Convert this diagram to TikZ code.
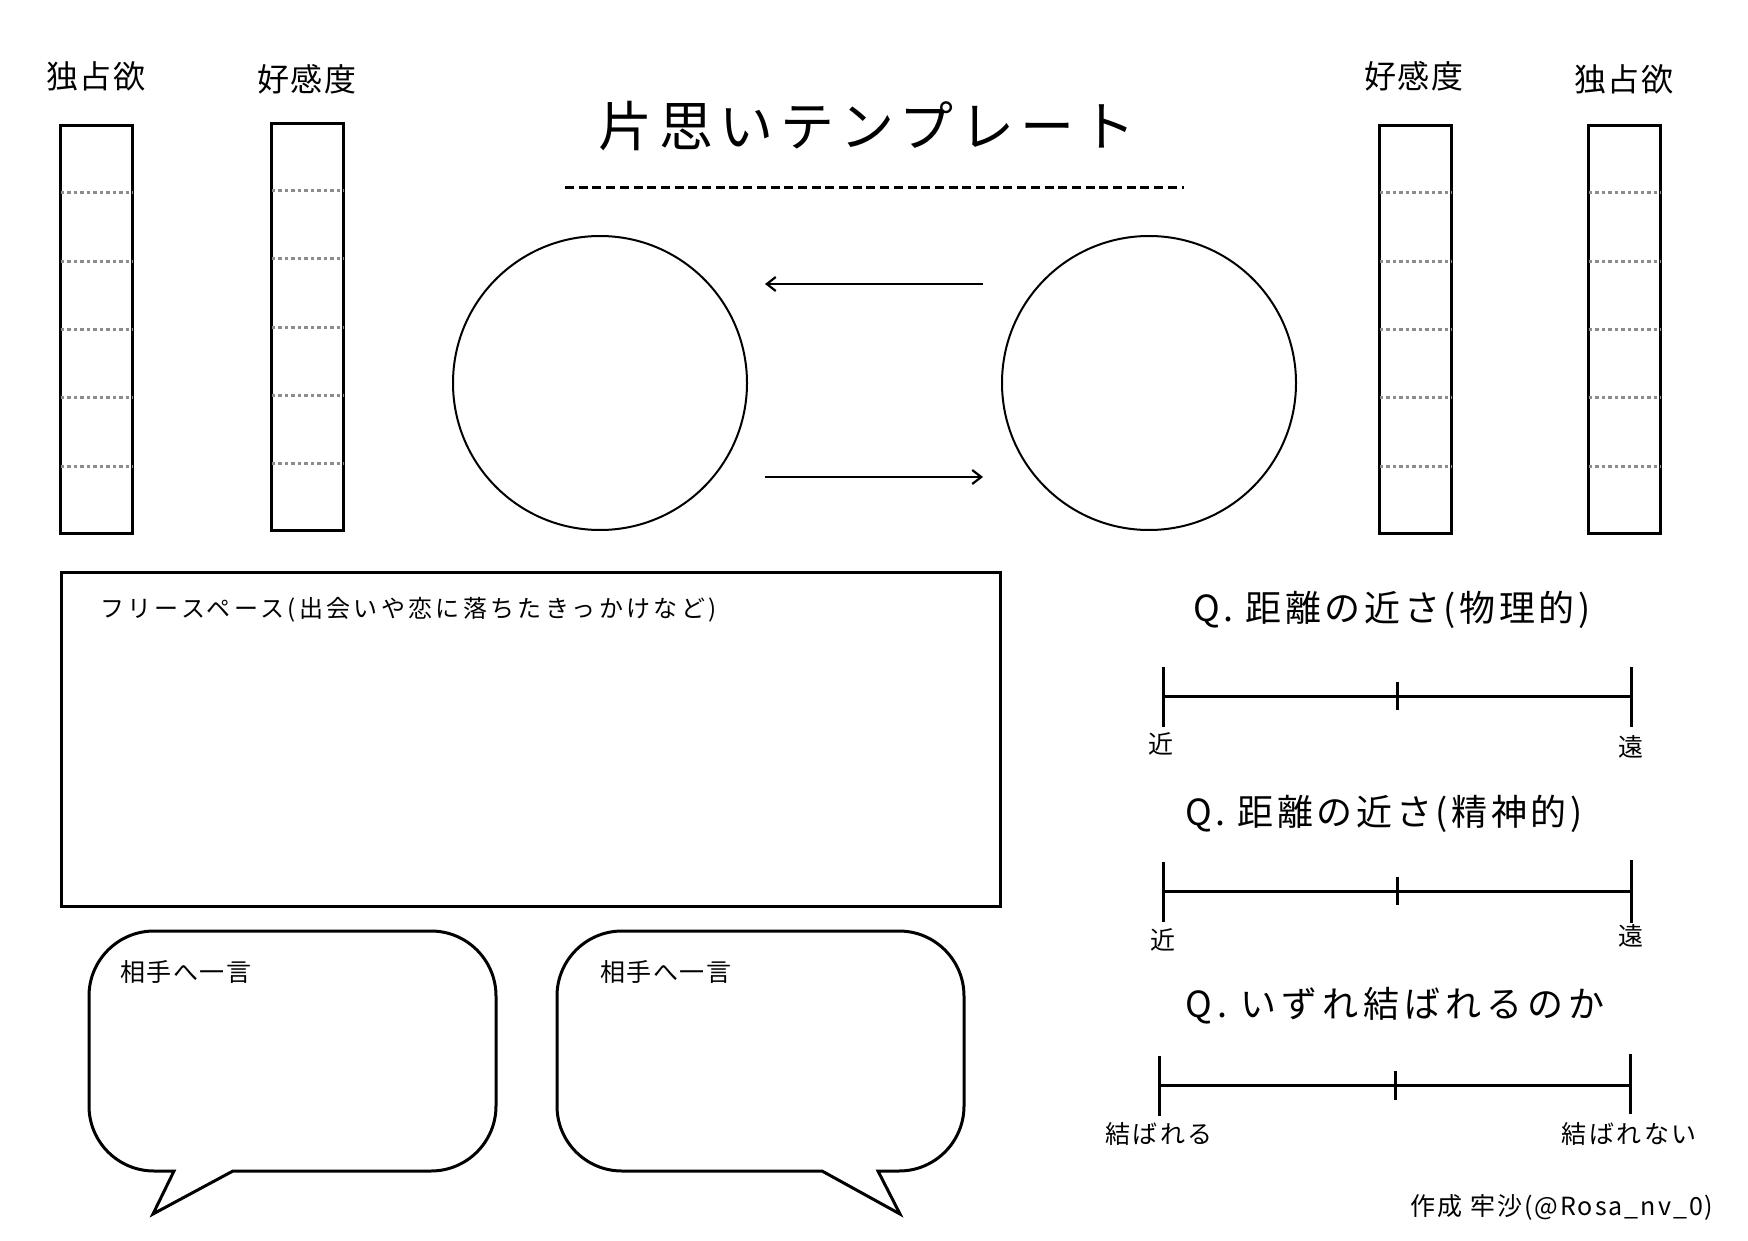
\documentclass[tikz,border=0pt]{standalone}
\usepackage{fontspec}
\setmainfont{Noto Sans CJK JP}
\usetikzlibrary{arrows.meta,calc}
\begin{document}
\begin{tikzpicture}[x=1pt,y=-1pt,
  bar/.style={draw, line width=3pt, minimum width=72pt, minimum height=407pt, inner sep=0pt},
  dotline/.style={draw=black!45, line width=3pt, dash pattern=on 3.5pt off 3pt, shorten <=1.5pt, shorten >=1.5pt},
  ring/.style={draw, circle, line width=2pt, minimum size=294pt, inner sep=0pt},
  arr/.style={line width=2.8pt, -{Straight Barb[length=9pt,width=14pt,line width=2.2pt]}},
  scaleline/.style={line width=3pt},
  lbl/.style={font=\fontsize{32}{36}\selectfont\addfontfeature{LetterSpace=6}, inner sep=0pt},
  qtext/.style={font=\fontsize{36}{40}\selectfont\addfontfeature{LetterSpace=10}, inner sep=0pt},
  small/.style={font=\fontsize{25}{28}\selectfont\addfontfeature{LetterSpace=10}, inner sep=0pt},
  bubble/.style={draw, line width=3pt, fill=white}
]
\useasboundingbox (0,0) rectangle (1748,1241);
\fill[white] (0,0) rectangle (1748,1241);

% title
\node[font=\fontsize{54}{60}\selectfont\addfontfeature{LetterSpace=12}, inner sep=0pt] (title) at (867,126) {片思いテンプレート};
\coordinate (dl) at (565,188);
\coordinate (dr) at (1184,188);
\draw[line width=3pt, dash pattern=on 9pt off 4.7pt] (dl) -- (dr);

% bars
\node[bar] (b1) at (96.5,329.5) {};
\node[bar] (b2) at (307.5,327) {};
\node[bar] (b3) at (1415.5,329.5) {};
\node[bar] (b4) at (1624.5,329.5) {};
\foreach \b in {b1,b2,b3,b4}{
  \foreach \k in {1,...,5}{
    \draw[dotline] ($(\b.north west)!\k/6!(\b.south west)$) -- ($(\b.north east)!\k/6!(\b.south east)$);
  }
}
\node[lbl] (l1) at (96,76) {独占欲};
\node[lbl] (l2) at (307,79) {好感度};
\node[lbl] (l3) at (1414,76) {好感度};
\node[lbl] (l4) at (1624,79) {独占欲};

% circles and arrows
\node[ring] (c1) at (600,383) {};
\node[ring] (c2) at (1149,383) {};
\coordinate (a1s) at (983,284);
\coordinate (a1e) at (765,284);
\coordinate (a2s) at (765,477);
\coordinate (a2e) at (983,477);
\draw[arr] (a1s) -- (a1e);
\draw[arr] (a2s) -- (a2e);

% free space
\node[draw, line width=3pt, minimum width=939pt, minimum height=334pt, inner sep=0pt, anchor=north west] (free) at (60,571) {};
\node[small, anchor=west, font=\fontsize{24}{28}\selectfont\addfontfeature{LetterSpace=14}] (freetxt) at (100,610) {フリースペース(出会いや恋に落ちたきっかけなど)};

% speech bubbles
\draw[bubble] (154,931) -- (431,931) arc[start angle=270, end angle=360, radius=65]
  -- (496,1106) arc[start angle=0, end angle=90, radius=65]
  -- (233,1171) -- (153,1214) -- (174,1171) -- (154,1171)
  arc[start angle=90, end angle=180, radius=65]
  -- (89,996) arc[start angle=180, end angle=270, radius=65] -- cycle;
\draw[bubble] (622,931) -- (899,931) arc[start angle=270, end angle=360, radius=65]
  -- (964,1106) arc[start angle=0, end angle=90, radius=65]
  -- (878,1171) -- (900,1214) -- (822,1171) -- (622,1171)
  arc[start angle=90, end angle=180, radius=65]
  -- (557,996) arc[start angle=180, end angle=270, radius=65] -- cycle;
\node[small, anchor=west, font=\fontsize{25}{28}\selectfont\addfontfeature{LetterSpace=6}] (m1) at (120,972) {相手へ一言};
\node[small, anchor=west, font=\fontsize{25}{28}\selectfont\addfontfeature{LetterSpace=6}] (m2) at (600,972) {相手へ一言};

% question 1
\node[qtext] (q1) at (1392,610) {Q. 距離の近さ(物理的)};
\coordinate (s1l) at (1163,696);
\coordinate (s1m) at (1397,696);
\coordinate (s1r) at (1631,696);
\draw[scaleline] (s1l) -- (s1r);
\draw[scaleline] ($(s1l)+(0,-29)$) -- ($(s1l)+(0,31)$);
\draw[scaleline] ($(s1r)+(0,-29)$) -- ($(s1r)+(0,31)$);
\draw[scaleline] ($(s1m)+(0,-14)$) -- ($(s1m)+(0,14)$);
\node[small] (n1) at (1161,744) {近};
\node[small] (f1) at (1631,747) {遠};

% question 2
\node[qtext] (q2) at (1384,814) {Q. 距離の近さ(精神的)};
\coordinate (s2l) at (1163,891);
\coordinate (s2m) at (1397,891);
\coordinate (s2r) at (1631,891);
\draw[scaleline] (s2l) -- (s2r);
\draw[scaleline] ($(s2l)+(0,-29)$) -- ($(s2l)+(0,31)$);
\draw[scaleline] ($(s2r)+(0,-31)$) -- ($(s2r)+(0,32)$);
\draw[scaleline] ($(s2m)+(0,-14)$) -- ($(s2m)+(0,14)$);
\node[small] (n2) at (1163,940) {近};
\node[small] (f2) at (1631,936) {遠};

% question 3
\node[qtext, font=\fontsize{36}{40}\selectfont\addfontfeature{LetterSpace=14}] (q3) at (1395,1006) {Q. いずれ結ばれるのか};
\coordinate (s3l) at (1159,1085);
\coordinate (s3m) at (1395,1085);
\coordinate (s3r) at (1630,1085);
\draw[scaleline] (s3l) -- (s3r);
\draw[scaleline] ($(s3l)+(0,-29)$) -- ($(s3l)+(0,31)$);
\draw[scaleline] ($(s3r)+(0,-31)$) -- ($(s3r)+(0,29)$);
\draw[scaleline] ($(s3m)+(0,-14)$) -- ($(s3m)+(0,15)$);
\node[small] (y3) at (1159,1134) {結ばれる};
\node[small] (x3) at (1629,1134) {結ばれない};

% credit
\node[small, font=\fontsize{25}{28}\selectfont\addfontfeature{LetterSpace=8}] (credit) at (1562,1207) {作成 牢沙(@Rosa\_nv\_0)};
\end{tikzpicture}
\end{document}
